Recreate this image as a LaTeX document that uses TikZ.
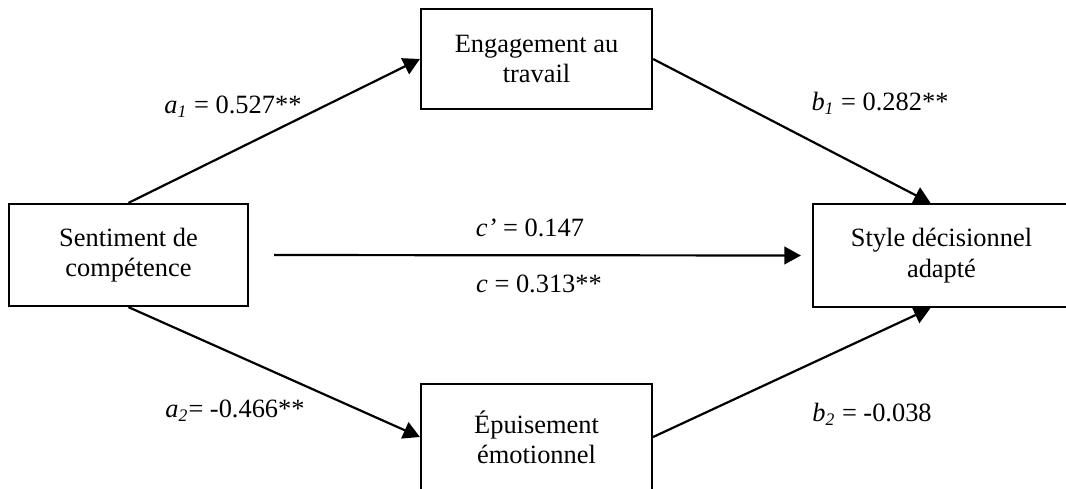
\documentclass[tikz,border=0pt]{standalone}
\usepackage{fontspec}
\setmainfont{Liberation Serif}
\usetikzlibrary{arrows.meta}

\begin{document}
\begin{tikzpicture}[x=0.4545pt, y=-0.4545pt,
  font=\fontsize{12}{13.8}\selectfont,
  var/.style={draw, line width=1pt, align=center, inner sep=0pt},
  effect/.style={line width=1pt, -{Triangle[length=7.5pt, width=8pt]}},
  coef/.style={inner sep=0pt}]

%% Geometry: one unit is one pixel of the 1066 x 489 page, y grows downwards.
\useasboundingbox (0,0) rectangle (1066,489);

%% ---------- the four variables ----------
\node[var, minimum width=108.6pt, minimum height=46.4pt] (sent) at (128.5,255)
  {Sentiment de\\compétence};
\node[var, minimum width=105pt, minimum height=45.5pt] (eng) at (536.5,59)
  {Engagement au\\travail};
\node[var, minimum width=105pt, minimum height=48.2pt] (epu) at (536.5,437)
  {Épuisement\\émotionnel};
\node[var, minimum width=116.8pt, minimum height=46.8pt] (style) at (941.5,255.5)
  {Style décisionnel\\adapté};

%% ---------- indirect paths ----------
\draw[effect] (sent.north) -- (eng.west);
\draw[effect] (eng.east) -- ([xshift=-5pt]style.north);
\draw[effect] (sent.south) -- (epu.west);
\draw[effect] (epu.east) -- ([xshift=-5pt]style.south);

%% ---------- direct path ----------
\draw[effect, shorten <=11.4pt, shorten >=5pt] (sent.east) -- (style.west);

%% ---------- coefficients ----------
\node[coef] (ca1) at (233,107) {\textit{a}\textsubscript{\textit{1}} = 0.527**};
\node[coef] (cb1) at (880,103) {\textit{b}\textsubscript{\textit{1}} = 0.282**};
\node[coef] (ca2) at (235,411) {\textit{a}\textsubscript{\textit{2}}= -0.466**};
\node[coef] (cb2) at (872,414) {\textit{b}\textsubscript{\textit{2}} = -0.038};
\node[coef] (ccp) at (530,228) {\textit{c’} = 0.147};
\node[coef] (cc) at (539,284) {\textit{c} = 0.313**};

\end{tikzpicture}
\end{document}
